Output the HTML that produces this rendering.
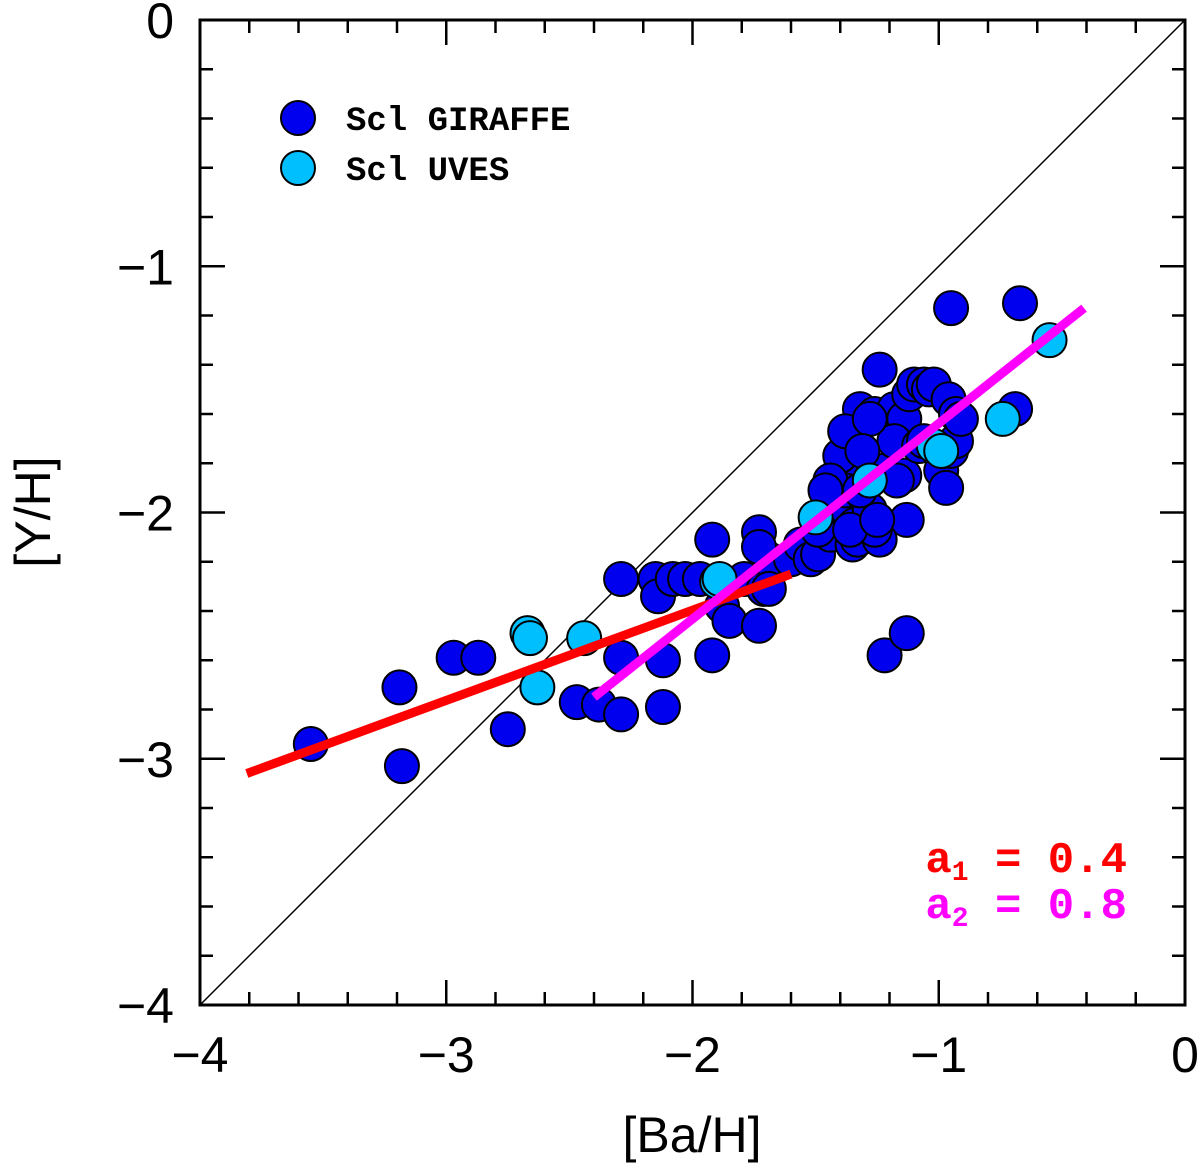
<!DOCTYPE html>
<html><head><meta charset="utf-8"><style>
html,body{margin:0;padding:0;background:#fff;}
svg{display:block;font-family:"Liberation Sans",sans-serif;}
</style></head><body>
<svg id="chart" width="1200" height="1163" viewBox="0 0 1200 1163"></svg>
<script>
const xTicks=[-4,-3,-2,-1,0];
const yTicks=[-4,-3,-2,-1,0];
const xTickLabels=["−4","−3","−2","−1","0"];
const yTickLabels=["−4","−3","−2","−1","0"];
const giraffeX=[-3.55,-3.19,-3.18,-2.97,-2.87,-2.75,-2.47,-2.38,-2.29,-2.29,-2.29,-2.12,-2.12,-2.15,-2.14,-2.08,-2.03,-1.97,-1.92,-1.92,-1.88,-1.85,-1.79,-1.73,-1.73,-1.71,-1.69,-1.73,-1.69,-1.60,-1.56,-1.52,-1.49,-1.44,-1.41,-1.37,-1.34,-1.40,-1.38,-1.35,-1.33,-1.32,-1.26,-1.24,-1.21,-1.18,-1.14,-1.12,-1.10,-1.06,-1.04,-1.02,-0.99,-0.98,-0.95,-0.93,-0.96,-0.93,-0.91,-1.13,-1.24,-1.26,-1.22,-1.28,-1.18,-1.14,-1.22,-1.13,-0.97,-0.67,-0.95,-0.69,-1.40,-1.44,-1.49,-1.46,-1.32,-1.38,-1.28,-1.31,-1.36,-1.25,-1.17,-1.08,-1.06];
const giraffeY=[-2.94,-2.71,-3.03,-2.59,-2.59,-2.88,-2.77,-2.78,-2.59,-2.82,-2.27,-2.60,-2.79,-2.27,-2.34,-2.27,-2.27,-2.27,-2.11,-2.58,-2.38,-2.44,-2.27,-2.46,-2.08,-2.31,-2.19,-2.14,-2.31,-2.19,-2.13,-2.19,-2.17,-2.09,-2.01,-1.99,-2.05,-1.83,-1.91,-2.13,-2.11,-1.58,-1.60,-1.42,-1.62,-1.58,-1.62,-1.52,-1.48,-1.48,-1.50,-1.48,-1.83,-1.75,-1.75,-1.71,-1.54,-1.60,-1.62,-2.03,-2.11,-2.07,-1.83,-1.99,-1.71,-1.85,-2.58,-2.49,-1.90,-1.15,-1.17,-1.58,-1.77,-1.87,-2.07,-1.91,-1.91,-1.67,-1.62,-1.75,-2.07,-2.03,-1.87,-1.73,-1.71];
const uvesX=[-2.67,-2.66,-2.63,-2.44,-1.90,-1.89,-1.50,-1.28,-1.02,-0.99,-0.74,-0.55];
const uvesY=[-2.49,-2.51,-2.71,-2.51,-2.28,-2.27,-2.02,-1.87,-1.73,-1.75,-1.62,-1.30];
const fit1X=[-3.81,-1.60], fit1Y=[-3.06,-2.25];
const fit2X=[-2.40,-0.41], fit2Y=[-2.75,-1.17];

const L=200,R=1185,T=20,B=1005;
const sx=v=>L+(v+4)/4*(R-L);
const sy=v=>T+(0-v)/4*(B-T);
const svg=document.getElementById('chart');
const NS='http://www.w3.org/2000/svg';
function mk(tag,attrs,parent){const e=document.createElementNS(NS,tag);for(const k in attrs)e.setAttribute(k,attrs[k]);(parent||svg).appendChild(e);return e;}

let d=mk('line',{x1:sx(-4),y1:sy(-4),x2:sx(0),y2:sy(0),stroke:'#000','stroke-width':1.5});



const gG=mk('g',{});


giraffeX.forEach((x,i)=>{const c=mk('circle',{cx:sx(x),cy:sy(giraffeY[i]),r:17,fill:'#0000ee',stroke:'#000','stroke-width':2},gG);

});
const gU=mk('g',{});


uvesX.forEach((x,i)=>{const c=mk('circle',{cx:sx(x),cy:sy(uvesY[i]),r:17,fill:'#00bfff',stroke:'#000','stroke-width':2},gU);

});

let f1=mk('line',{x1:sx(fit1X[0]),y1:sy(fit1Y[0]),x2:sx(fit1X[1]),y2:sy(fit1Y[1]),stroke:'#ff0000','stroke-width':9});


let f2=mk('line',{x1:sx(fit2X[0]),y1:sy(fit2Y[0]),x2:sx(fit2X[1]),y2:sy(fit2Y[1]),stroke:'#ff00ff','stroke-width':9});



let fr=mk('rect',{x:L,y:T,width:R-L,height:B-T,fill:'none',stroke:'#000','stroke-width':3});



const tg=mk('g',{stroke:'#000','stroke-width':2.5});


for(let k=0;k<=20;k++){
  const v=-4+k*0.2, major=(k%5===0), len=major?25:13;
  const X=sx(v), Y=sy(v);
  mk('line',{x1:X,y1:B,x2:X,y2:B-len},tg);
  mk('line',{x1:X,y1:T,x2:X,y2:T+len},tg);
  mk('line',{x1:L,y1:Y,x2:L+len,y2:Y},tg);
  mk('line',{x1:R,y1:Y,x2:R-len,y2:Y},tg);
}
xTicks.forEach((v,i)=>{const t=mk('text',{x:sx(v),y:1072,'font-size':50,'text-anchor':'middle'});t.textContent=xTickLabels[i];

});
yTicks.forEach((v,i)=>{const t=mk('text',{x:174,y:sy(v)+18,'font-size':50,'text-anchor':'end'});t.textContent=yTickLabels[i];

});

let xt=mk('text',{x:692,y:1152,'font-size':50,'text-anchor':'middle'});xt.textContent='[Ba/H]';


let yt=mk('text',{x:50,y:512,'font-size':50,'text-anchor':'middle',transform:'rotate(-90 50 512)'});yt.textContent='[Y/H]';



const lg=mk('g',{});


let c1=mk('circle',{cx:298,cy:118,r:17,fill:'#0000ee',stroke:'#000','stroke-width':2},lg);


let t1=mk('text',{x:346,y:130,'font-size':34,'font-weight':'bold','font-family':'Liberation Mono, monospace'},lg);t1.textContent='Scl GIRAFFE';


let c2=mk('circle',{cx:298,cy:168,r:17,fill:'#00bfff',stroke:'#000','stroke-width':2},lg);


let t2=mk('text',{x:346,y:180,'font-size':34,'font-weight':'bold','font-family':'Liberation Mono, monospace'},lg);t2.textContent='Scl UVES';



let a1=mk('text',{x:1127,y:872,'font-size':44,'font-weight':'bold','text-anchor':'end',fill:'#ff0000','font-family':'Liberation Mono, monospace'});
a1.innerHTML='a<tspan font-size="28" dy="8">1</tspan><tspan dy="-8"> = 0.4</tspan>';


let a2=mk('text',{x:1127,y:918,'font-size':44,'font-weight':'bold','text-anchor':'end',fill:'#ff00ff','font-family':'Liberation Mono, monospace'});
a2.innerHTML='a<tspan font-size="28" dy="8">2</tspan><tspan dy="-8"> = 0.8</tspan>';


</script>
</body></html>
